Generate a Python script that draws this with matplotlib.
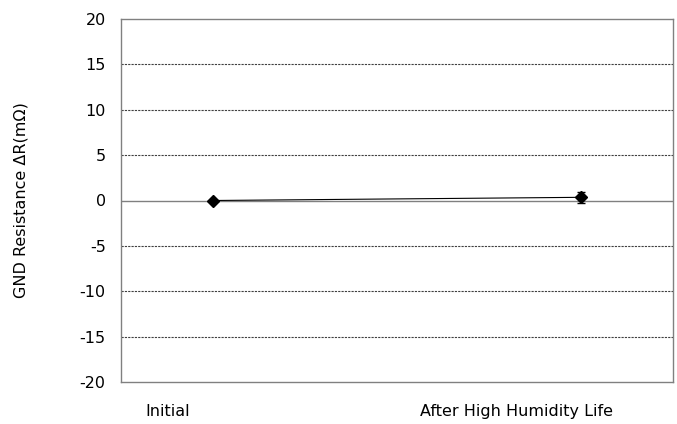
import matplotlib.pyplot as plt

plt.rcParams['font.family'] = ['DejaVu Sans']

categories = ["Initial", "After High Humidity Life"]
x_pos = [0.5, 2.5]
values = [0.0, 0.35]
errors = [0.0, 0.6]
label_pos = [0.255, 2.15]
y_ticks = [-20, -15, -10, -5, 0, 5, 10, 15, 20]

fig = plt.figure(figsize=(6.77, 4.24), dpi=100)
ax = fig.add_axes([121/677, 1 - 382/424, 552/677, 363/424])

# grid lines, zero line solid
for yv in y_ticks:
    if yv == 0:
        ax.axhline(yv, color='#808080', lw=1.0, zorder=1)
    elif -20 < yv < 20:
        ax.axhline(yv, color='#404040', lw=0.8, ls=(0, (2, 1)), zorder=1)

ax.errorbar(x_pos, values, yerr=errors, color='black', lw=0.8, marker='D',
            markersize=6, capsize=3, elinewidth=1, zorder=3)

ax.set_xlim(0, 3)
ax.set_ylim(-20, 20)
ax.set_yticks(y_ticks)
ax.set_yticklabels([str(v) for v in y_ticks], fontsize=11.5)
ax.set_xticks(label_pos)
ax.set_xticklabels(categories, fontsize=11.5)
ax.tick_params(axis='y', length=0, pad=11)
ax.tick_params(axis='x', length=0, pad=16)
for s in ax.spines.values():
    s.set_color('#808080')
    s.set_linewidth(1)

ax.set_ylabel("GND Resistance ΔR(mΩ)", fontsize=11.5, labelpad=37)

fig.savefig("out.png", dpi=100)
